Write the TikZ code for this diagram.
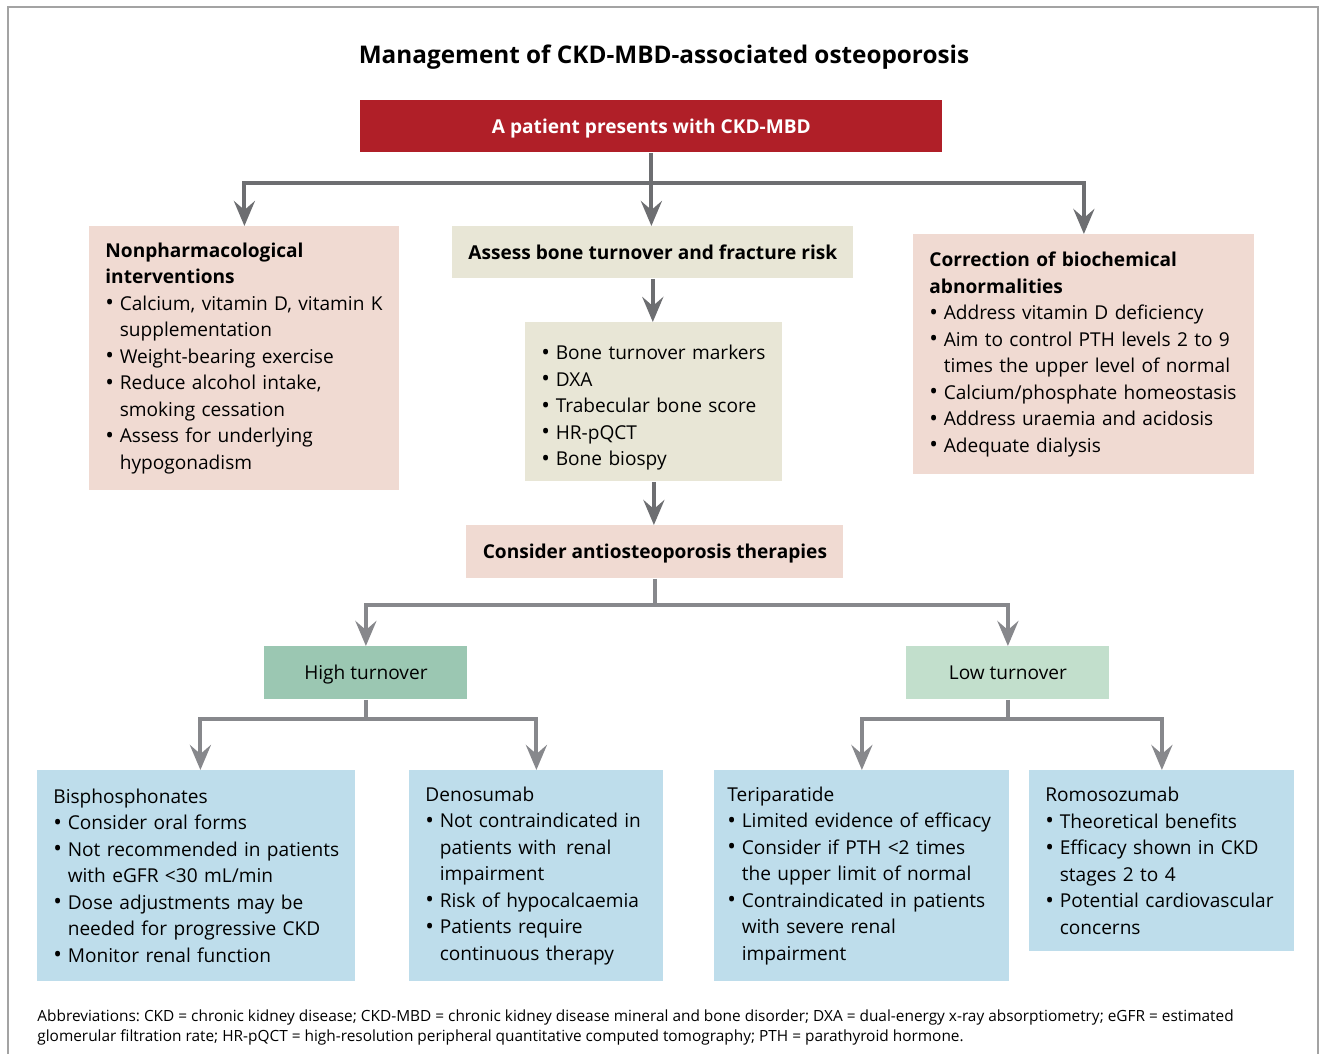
\documentclass[tikz,border=0pt]{standalone}
\usepackage{fontspec}
\setmainfont{Open Sans}
\usetikzlibrary{arrows.meta}

\definecolor{ckdred}{HTML}{B01F28}
\definecolor{ckdpink}{HTML}{F0DAD2}
\definecolor{ckdbeige}{HTML}{E8E6D6}
\definecolor{highgreen}{HTML}{9BC7B2}
\definecolor{lowgreen}{HTML}{C2DFCC}
\definecolor{drugblue}{HTML}{BEDDEB}
\definecolor{linedark}{HTML}{6D6E71}
\definecolor{linelight}{HTML}{87888C}
\definecolor{framegray}{HTML}{A3A3A3}

% bullet line with hanging indent
\newcommand{\bitem}[1]{\par\noindent\hangindent=7.2pt\hangafter=1\makebox[7.2pt][l]{\raisebox{-0.3pt}{\fontsize{11.5}{13}\selectfont\textbullet}}{\let\\\newline#1}\par}

\begin{document}
\frenchspacing
\begin{tikzpicture}[x=0.5pt,y=-0.5pt,
    box/.style={anchor=north west, inner xsep=8pt, inner ysep=0pt,
      font=\fontsize{9.55}{13.25}\selectfont},
    onebox/.style={box, text height=8.2pt, text depth=1.2pt},
    listbox/.style={box, execute at begin node=\raggedright},
    headbox/.style={onebox, font=\fontsize{9.55}{13.25}\selectfont\bfseries},
    topline/.style={draw=linedark, line width=2pt},
    toparrow/.style={topline, -{Stealth[length=12.5pt,width=10.5pt,inset=4.5pt]}},
    lowline/.style={draw=linelight, line width=2pt},
    lowarrow/.style={lowline, -{Stealth[length=12.5pt,width=10.5pt,inset=4.5pt]}}]
  % helper grid: comment for final drawing
  % \draw[help lines,step=50] (0,0) grid (1319,1054);
  \useasboundingbox (0,0) rectangle (1319,1054);
  \draw[framegray, line width=1pt] (8,1054) |- (1318,7) -- (1318,1054);

  \node (title) at (664,57) {\fontsize{12.15}{14}\selectfont\bfseries Management of CKD-MBD-associated osteoporosis};

  % first level
  \node[headbox, fill=ckdred, text=white, minimum width=291pt, minimum height=26pt] (patient) at (360,100) {A patient presents with CKD-MBD};

  \node[listbox, fill=ckdpink, text width=139pt, minimum height=132pt] (nonpharm) at (89,226) {%
    \textbf{Nonpharmacological}\\\textbf{interventions}
    \bitem{Calcium, vitamin D, vitamin K\\supplementation}
    \bitem{Weight-bearing exercise}
    \bitem{Reduce alcohol intake,\\smoking cessation}
    \bitem{Assess for underlying\\hypogonadism}};
  \node[headbox, fill=ckdbeige, minimum width=200pt, minimum height=26pt] (assess) at (452,226) {Assess bone turnover and fracture risk};
  \node[listbox, fill=ckdpink, text width=154.5pt, minimum height=120pt] (correction) at (913,234) {%
    \textbf{Correction of biochemical}\\\textbf{abnormalities}
    \bitem{Address vitamin D deficiency}
    \bitem{Aim to control PTH levels 2 to 9\\times the upper level of normal}
    \bitem{Calcium/phosphate homeostasis}
    \bitem{Address uraemia and acidosis}
    \bitem{Adequate dialysis}};

  \node[listbox, fill=ckdbeige, text width=112.5pt, minimum height=79.5pt] (tests) at (525,322) {%
    \bitem{Bone turnover markers}
    \bitem{DXA}
    \bitem{Trabecular bone score}
    \bitem{HR-pQCT}
    \bitem{Bone biospy}};
  \node[headbox, fill=ckdpink, minimum width=188.5pt, minimum height=26.5pt] (consider) at (466,525) {Consider antiosteoporosis therapies};

  % turnover
  \node[onebox, fill=highgreen, minimum width=101.5pt, minimum height=26.5pt] (high) at (264,646) {High turnover};
  \node[onebox, fill=lowgreen, minimum width=101.5pt, minimum height=26.5pt] (low) at (906,646) {Low turnover};

  % therapies
  \node[listbox, fill=drugblue, text width=143pt, minimum height=105.5pt] (bisph) at (37,770) {%
    Bisphosphonates
    \bitem{Consider oral forms}
    \bitem{Not recommended in patients\\with eGFR <30 mL/min}
    \bitem{Dose adjustments may be\\needed for progressive CKD}
    \bitem{Monitor renal function}};
  \node[listbox, fill=drugblue, text width=111pt, minimum height=105.5pt] (denos) at (409,770) {%
    Denosumab
    \bitem{Not contraindicated in\\patients with\, renal\\impairment}
    \bitem{Risk of hypocalcaemia}
    \bitem{Patients require\\continuous therapy}};
  \node[listbox, fill=drugblue, inner xsep=6.5pt, text width=134.5pt, minimum height=105.5pt] (teri) at (714,770) {%
    Teriparatide
    \bitem{Limited evidence of efficacy}
    \bitem{Consider if PTH <2 times\\the upper limit of normal}
    \bitem{Contraindicated in patients\\with severe renal\\impairment}};
  \node[listbox, fill=drugblue, text width=116.5pt, minimum height=90.5pt] (romos) at (1029,770) {%
    Romosozumab
    \bitem{Theoretical benefits}
    \bitem{Efficacy shown in CKD\\stages 2 to 4}
    \bitem{Potential cardiovascular\\concerns}};

  \node[anchor=north west, inner sep=0pt, align=left, font=\fontsize{7.7}{10}\selectfont] (abbrev) at (37,1009) {%
    Abbreviations: CKD = chronic kidney disease; CKD-MBD = chronic kidney disease mineral and bone disorder; DXA = dual-energy x-ray absorptiometry; eGFR = estimated\\
    glomerular filtration rate; HR-pQCT = high-resolution peripheral quantitative computed tomography; PTH = parathyroid hormone.};

  % connectors
  \coordinate (split1) at (patient.south |- 0,183);
  \coordinate (split2) at (consider.south |- 0,605);
  \coordinate (split3) at (high.south |- 0,719);
  \coordinate (split4) at (low.south |- 0,719);
  \draw[topline] (patient.south) -- (split1);
  \draw[toparrow] (split1) -| (nonpharm.north);
  \draw[toparrow] (split1) -- (split1 |- assess.north);
  \draw[toparrow] (split1) -| (correction.north);
  \draw[toparrow] (assess.south) -- (assess.south |- tests.north);
  \draw[toparrow] (tests.south) -- (tests.south |- consider.north);
  \draw[lowline] (consider.south) -- (split2);
  \draw[lowarrow] (split2) -| (high.north);
  \draw[lowarrow] (split2) -| (low.north);
  \draw[lowline] (high.south) -- (split3);
  \draw[lowarrow] (split3) -| ([xshift=2pt]bisph.north);
  \draw[lowarrow] (split3) -| (denos.north);
  \draw[lowline] (low.south) -- (split4);
  \draw[lowarrow] (split4) -| (teri.north);
  \draw[lowarrow] (split4) -| (romos.north);
\end{tikzpicture}
\end{document}
